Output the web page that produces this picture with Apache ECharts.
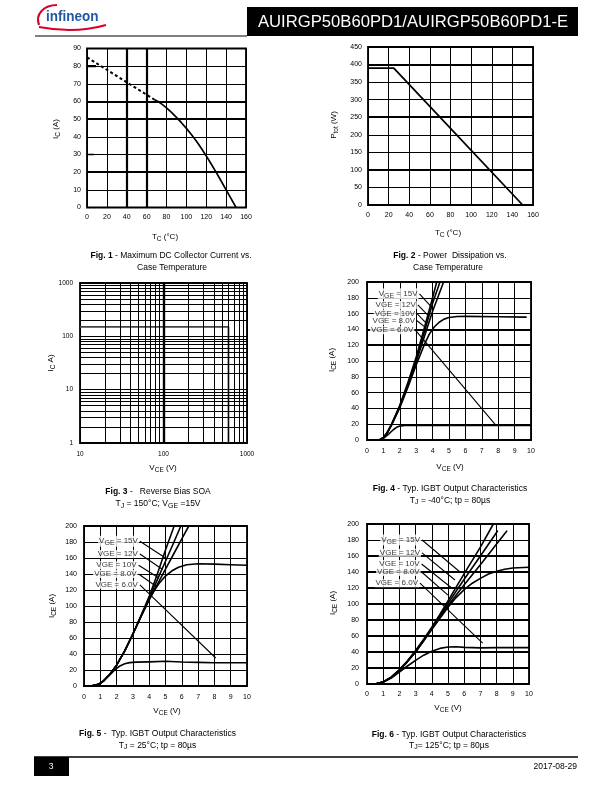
<!DOCTYPE html>
<html><head><meta charset="utf-8">
<script src="https://cdn.jsdelivr.net/npm/echarts@6/dist/echarts.min.js"></script>
<style>html,body{margin:0;padding:0;background:#fff}#c{width:612px;height:792px}</style>
</head><body><div id="c"></div>
<script>
// ---------- DATA ----------
const fig1XTicks = [0,20,40,60,80,100,120,140,160];
const fig1YTicks = [0,10,20,30,40,50,60,70,80,90];
const fig1DashT = [0, 68];
const fig1DashI = [85, 61];
const fig1T = [68, 72, 76, 80, 85, 90, 95, 100, 105, 110, 115, 120, 125, 130, 135, 140, 145, 150];
const fig1I = [61, 59.8, 58.2, 56.4, 53.8, 51, 48, 44.8, 41.3, 37.6, 33.5, 29.2, 24.6, 19.9, 15, 10, 5, 0];
const fig1StubT = [0, 7];
const fig1StubI = [30, 30];
const fig1SegT = [0, 9];
const fig1SegI = [80, 80];

const fig2XTicks = [0,20,40,60,80,100,120,140,160];
const fig2YTicks = [0,50,100,150,200,250,300,350,400,450];
const fig2T = [0, 25, 150];
const fig2P = [390, 390, 0];

const fig3XTicks = [10, 100, 1000];
const fig3YTicks = [1, 10, 100, 1000];
const fig3V = [10, 600, 600];
const fig3I = [150, 150, 1];
const fig3MinorX = [20,30,40,50,60,70,80,90,200,300,400,500,600,700,800,900];
const fig3MinorY = [2,3,4,5,6,7,8,9,20,30,40,50,60,70,80,90,200,300,400,500,600,700,800,900];

const outXTicks = [0,1,2,3,4,5,6,7,8,9,10];
const outYTicks = [0,20,40,60,80,100,120,140,160,180,200];
const vgeLabels = ['15V', '12V', '10V', '8.0V', '6.0V'];

// Fig 4, Tj = -40C
const fig4Vge15 = [[0.75,0],[1,3],[1.25,10],[1.5,20],[2,44],[2.5,73],[3,105],[3.5,142],[4,180],[4.25,200]];
const fig4Vge12 = [[0.75,0],[1,3],[1.25,10],[1.5,20],[2,43],[2.5,71],[3,102],[3.5,137],[4,173],[4.45,200]];
const fig4Vge10 = [[0.75,0],[1,3],[1.25,9.5],[1.5,19],[2,42],[2.5,69],[3,99],[3.5,131],[4,163],[4.67,200]];
const fig4Vge8  = [[0.75,0],[1,3],[1.25,9.5],[1.5,19],[2,41],[2.5,67],[3,95],[3.5,121],[3.8,134],[4.1,143],[4.4,149],[4.7,153],[5,155],[5.5,156.3],[6,156.5],[8,156],[9.7,155.5]];
const fig4Vge6  = [[0.75,0],[1,2],[1.3,7],[1.6,13],[1.8,16],[2,17.6],[2.3,18.3],[3,18.5],[5,18.5],[10,18.5]];
const fig4Leaders = [[[3.2,185],[3.95,168]],[[3.1,171],[3.75,157]],[[3.05,160],[3.65,147]],[[3.05,151],[3.6,142]],[[2.95,139],[7.8,20]]];

// Fig 5, Tj = 25C
const fig5Vge15 = [[0,0],[0.5,0.3],[0.9,2],[1.2,6.5],[1.6,15],[2,26],[2.5,44],[3,65],[3.5,88],[4,112],[4.5,140],[5,170],[5.53,200]];
const fig5Vge12 = [[0,0],[0.5,0.3],[0.9,2],[1.2,6.5],[1.6,15],[2,26],[2.5,44],[3,65],[3.5,87.5],[4,110],[4.5,133],[5,156],[5.5,179],[5.94,200]];
const fig5Vge10 = [[0,0],[0.5,0.3],[0.9,2],[1.2,6.5],[1.6,15],[2,26],[2.5,44],[3,65],[3.5,87],[4,108],[4.5,127],[5,146],[5.5,165],[6,184],[6.43,200]];
const fig5Vge8  = [[0,0],[0.5,0.3],[0.9,2],[1.2,6.5],[1.6,15],[2,26],[2.5,44],[3,65],[3.5,87],[4,108],[4.3,119],[4.6,128],[5,137.5],[5.4,144],[5.8,148.5],[6.3,151.5],[7,152.8],[8,152.3],[9,151.5],[10,151]];
const fig5Vge6  = [[0,0],[0.5,0.3],[0.9,2],[1.2,6],[1.6,14],[1.9,20.5],[2.2,25],[2.5,27.8],[2.8,29.2],[3.2,29.8],[4,30.2],[5,31],[6,30],[7,29.5],[8,29],[10,29]];
const fig5Leaders = [[[3.43,181],[5.0,160]],[[3.43,165],[4.8,146]],[[3.35,151],[4.6,135]],[[3.35,140],[4.46,124]],[[3.43,126.5],[8.08,35]]];

// Fig 6, Tj = 125C
const fig6Vge15 = [[0.2,0],[0.6,0.5],[1,2.5],[1.5,9],[2,18],[2.5,29],[3,42],[3.5,56],[4,71],[4.5,87],[5,104],[6,138],[7,171],[7.8,200]];
const fig6Vge12 = [[0.2,0],[0.6,0.5],[1,2.5],[1.5,8.5],[2,17.5],[2.5,28.5],[3,41],[3.5,55],[4,70],[4.5,85],[5,101],[6,131],[7,160],[8.05,191]];
const fig6Vge10 = [[0.2,0],[0.6,0.5],[1,2.5],[1.5,8],[2,17],[2.5,28],[3,40],[3.5,54],[4,69],[4.5,83],[5,98],[6,124],[7,149],[8,175],[8.62,191]];
const fig6Vge8  = [[0.2,0],[0.6,0.5],[1,2.5],[1.5,8],[2,17],[2.5,28],[3,40],[3.5,54],[4,68],[4.5,82],[5,96],[5.5,108],[6,118],[6.5,126],[7,132],[7.5,137.5],[8,141],[8.5,143.5],[9,145],[10,146]];
const fig6Vge6  = [[0.2,0],[0.6,0.5],[1,2.5],[1.5,7.5],[2,15],[2.5,22.5],[3,29.5],[3.5,36],[4,41],[4.5,44.5],[5,46.3],[5.5,46.5],[6,45.8],[7,45.2],[8,45.5],[10,45.5]];
const fig6Leaders = [[[3.4,180],[5.74,140]],[[3.4,164],[5.43,130]],[[3.37,150],[5.23,120]],[[3.37,140],[5.0,111]],[[3.27,126],[7.14,51]]];

// ---------- HELPERS ----------
const FONT = '"Liberation Sans", Arial, Helvetica, sans-serif';
function pairs(xs, ys){ return xs.map((x,k)=>[x, ys[k]]); }

const grids = [
  {left:87, top:48.5, width:159, height:159},
  {left:368, top:47, width:165, height:158},
  {left:80, top:283, width:167, height:160},
  {left:367, top:282, width:164, height:158},
  {left:84, top:526, width:163, height:160},
  {left:367, top:524, width:162, height:160}
].map(g=>Object.assign(g,{show:true, borderColor:'#000', borderWidth:1.8, containLabel:false, outerBoundsMode:'none', backgroundColor:'transparent'}));

function valAxis(gi, ticks, margin, fs){
  return {type:'value', gridIndex:gi, min:ticks[0], max:ticks[ticks.length-1], interval:ticks[1]-ticks[0],
    axisLine:{show:false}, axisTick:{show:false},
    axisLabel:{fontSize:fs||7, color:'#000', fontFamily:FONT, margin, formatter:v=>String(v)},
    splitLine:{show:true, lineStyle:{color:'#000', width:1}}};
}
function logAxis(gi, ticks, margin){
  return {type:'log', logBase:10, gridIndex:gi, min:ticks[0], max:ticks[ticks.length-1],
    axisLine:{show:false}, axisTick:{show:false},
    axisLabel:{fontSize:6.5, color:'#000', fontFamily:FONT, margin, formatter:v=>String(Math.round(v))},
    splitLine:{show:true, lineStyle:{color:'#000', width:1}}};
}
function curve(gi, data, extra){
  return Object.assign({type:'line', xAxisIndex:gi, yAxisIndex:gi, data, symbol:'none', animation:false, silent:true,
    smooth:false, lineStyle:{color:'#000', width:1.6, join:'round', cap:'round'}, z:4}, extra||{});
}
function gridLines(gi, xs, ys, width){
  const d=[]; (xs||[]).forEach(v=>d.push({xAxis:v})); (ys||[]).forEach(v=>d.push({yAxis:v}));
  return {type:'line', xAxisIndex:gi, yAxisIndex:gi, data:[], symbol:'none', animation:false, silent:true, z:2,
    markLine:{silent:true, symbol:['none','none'], label:{show:false}, animation:false, precision:6,
      lineStyle:{color:'#000', width, type:'solid'}, data:d}};
}
function leaders(gi, list){
  return list.map(seg=>({type:'line', xAxisIndex:gi, yAxisIndex:gi, data:seg, symbol:'none', animation:false, silent:true,
    lineStyle:{color:'#000', width:1.1}, z:5}));
}
function labelSeries(gi, list){
  return {type:'scatter', xAxisIndex:gi, yAxisIndex:gi, symbolSize:0.01, itemStyle:{color:'#fff'}, animation:false, silent:true, z:6,
    data:list.map(seg=>seg[0]),
    label:{show:true, position:'left', distance:1, backgroundColor:'#fff', padding:[0,1,0,1],
      fontSize:8, fontFamily:FONT, color:'#000',
      formatter:p=> p.dataIndex===0 ? '{n|V}{s|GE}{n| = '+vgeLabels[0]+'}' : 'VGE = '+vgeLabels[p.dataIndex],
      rich:{n:{fontSize:8, fontFamily:FONT, color:'#000'}, s:{fontSize:7, fontFamily:FONT, color:'#000', padding:[4,0,0,0]}}}};
}

// ---------- SERIES ----------
const series = [];
// Fig 1
series.push(gridLines(0, [40,60], [60,50,20], 2.2));
series.push(curve(0, pairs(fig1SegT, fig1SegI), {z:3, lineStyle:{color:'#000', width:2.2}}));
series.push(curve(0, pairs(fig1DashT, fig1DashI), {lineStyle:{color:'#000', width:2, type:[3,2.5]}}));
series.push(curve(0, pairs(fig1T, fig1I), {lineStyle:{color:'#000', width:1.7, join:'round'}}));
series.push(curve(0, pairs(fig1StubT, fig1StubI), {lineStyle:{color:'#000', width:1.6}}));
// Fig 2
series.push(gridLines(1, [], [400,250,100], 2.2));
series.push(curve(1, pairs(fig2T, fig2P), {lineStyle:{color:'#000', width:1.8}}));
// Fig 3
series.push(gridLines(2, fig3MinorX, fig3MinorY, 1));
series.push(gridLines(2, [100], [], 2.4));
series.push(curve(2, pairs(fig3V, fig3I), {lineStyle:{color:'#444', width:1.8}}));
// Fig 4
series.push(gridLines(3, [], [140,120], 2.2));
[fig4Vge15, fig4Vge12, fig4Vge10, fig4Vge8, fig4Vge6].forEach(d=>series.push(curve(3, d)));
leaders(3, fig4Leaders).forEach(s=>series.push(s));
series.push(labelSeries(3, fig4Leaders));
// Fig 5
[fig5Vge15, fig5Vge12, fig5Vge10, fig5Vge8, fig5Vge6].forEach(d=>series.push(curve(4, d)));
leaders(4, fig5Leaders).forEach(s=>series.push(s));
series.push(labelSeries(4, fig5Leaders));
// Fig 6
series.push(gridLines(5, [], [20,40,60,80,100,120,140,160], 2.2));
[fig6Vge15, fig6Vge12, fig6Vge10, fig6Vge8, fig6Vge6].forEach(d=>series.push(curve(5, d)));
leaders(5, fig6Leaders).forEach(s=>series.push(s));
series.push(labelSeries(5, fig6Leaders));

// ---------- TEXT / PAGE ELEMENTS ----------
const RICH = {
  n:{fontSize:8, fontFamily:FONT, fill:'#000', color:'#000'},
  s:{fontSize:6.5, fontFamily:FONT, fill:'#000', color:'#000', padding:[4,0,0,0]},
  b:{fontSize:8.5, fontFamily:FONT, fontWeight:'bold', fill:'#000', color:'#000'},
  c:{fontSize:8.5, fontFamily:FONT, fill:'#000', color:'#000'},
  cs:{fontSize:7, fontFamily:FONT, fill:'#000', color:'#000', padding:[4,0,0,0]}
};
function txt(x, y, text, rot){
  return {type:'text', x, y, rotation:rot||0, silent:true, z:10,
    style:{text, rich:RICH, fontSize:8, fontFamily:FONT, fill:'#000', align:'center', verticalAlign:'middle', textAlign:'center', textVerticalAlign:'middle'}};
}
const R = Math.PI/2;
const graphics = [
  // header
  {type:'bezierCurve', shape:{x1:39,y1:25,cpx1:35,cpy1:14,cpx2:44,cpy2:5,x2:57,y2:5}, style:{stroke:'#d9002c', lineWidth:2.2, fill:null}, silent:true},
  {type:'bezierCurve', shape:{x1:39,y1:27,cpx1:60,cpy1:31,cpx2:85,cpy2:31,x2:106,y2:25}, style:{stroke:'#d9002c', lineWidth:2.2, fill:null}, silent:true},
  {type:'text', x:46, y:17, scaleX:0.9, silent:true, style:{text:'infineon', fontSize:15, fontWeight:'bold', fontFamily:FONT, fill:'#1f56a5', verticalAlign:'middle', textVerticalAlign:'middle'}},
  {type:'line', shape:{x1:35,y1:36,x2:247,y2:36}, style:{stroke:'#000', lineWidth:1.2}, silent:true},
  {type:'rect', shape:{x:247,y:7,width:331,height:29}, style:{fill:'#000'}, silent:true},
  {type:'text', x:413, y:22, scaleX:0.98, silent:true, style:{text:'AUIRGP50B60PD1/AUIRGP50B60PD1-E', fontSize:17, fontFamily:FONT, fill:'#fff', align:'center', verticalAlign:'middle', textAlign:'center', textVerticalAlign:'middle'}},
  // footer
  {type:'line', shape:{x1:34,y1:757,x2:578,y2:757}, style:{stroke:'#000', lineWidth:1.5}, silent:true},
  {type:'rect', shape:{x:34,y:757,width:35,height:19}, style:{fill:'#000'}, silent:true},
  {type:'text', x:51, y:767, silent:true, style:{text:'3', fontSize:8.5, fontFamily:FONT, fill:'#fff', align:'center', verticalAlign:'middle', textAlign:'center', textVerticalAlign:'middle'}},
  {type:'text', x:577, y:767, silent:true, style:{text:'2017-08-29', fontSize:8.5, fontFamily:FONT, fill:'#000', align:'right', verticalAlign:'middle', textAlign:'right', textVerticalAlign:'middle'}},
  // axis titles
  txt(165, 237, '{n|T}{s|C}{n| (°C)}'),
  txt(56, 129, '{n|I}{s|C}{n| (A)}', R),
  txt(448, 233, '{n|T}{s|C}{n| (°C)}'),
  txt(334, 125, '{n|P}{s|tot}{n| (W)}', R),
  txt(163, 468, '{n|V}{s|CE}{n| (V)}'),
  txt(51, 363, '{n|I}{s|C}{n| A)}', R),
  txt(450, 467, '{n|V}{s|CE}{n| (V)}'),
  txt(332, 360, '{n|I}{s|CE}{n| (A)}', R),
  txt(167, 711, '{n|V}{s|CE}{n| (V)}'),
  txt(52, 606, '{n|I}{s|CE}{n| (A)}', R),
  txt(448, 708, '{n|V}{s|CE}{n| (V)}'),
  txt(333, 603, '{n|I}{s|CE}{n| (A)}', R),
  // captions
  txt(171, 256, '{b|Fig. 1}{c| - Maximum DC Collector Current vs.}'),
  txt(172, 267.5, '{c|Case Temperature}'),
  txt(450, 256, '{b|Fig. 2}{c| - Power  Dissipation vs.}'),
  txt(448, 267.5, '{c|Case Temperature}'),
  txt(158, 492, '{b|Fig. 3}{c| -   Reverse Bias SOA}'),
  txt(158, 504, '{c|T}{cs|J}{c| = 150°C; V}{cs|GE}{c| =15V}'),
  txt(450, 489, '{b|Fig. 4}{c| - Typ. IGBT Output Characteristics}'),
  txt(450, 500.5, '{c|T}{cs|J}{c| = -40°C; tp = 80µs}'),
  txt(157.5, 734, '{b|Fig. 5}{c| -  Typ. IGBT Output Characteristics}'),
  txt(157.5, 745.5, '{c|T}{cs|J}{c| = 25°C; tp = 80µs}'),
  txt(449, 734.5, '{b|Fig. 6}{c| - Typ. IGBT Output Characteristics}'),
  txt(449, 745.5, '{c|T}{cs|J}{c|= 125°C; tp = 80µs}')
];

const chart = echarts.init(document.getElementById('c'), null, {renderer:'canvas', width:612, height:792});
chart.setOption({
  animation:false,
  backgroundColor:'#fff',
  grid: grids,
  xAxis: [valAxis(0, fig1XTicks, 6), valAxis(1, fig2XTicks, 7), logAxis(2, fig3XTicks, 8),
          valAxis(3, outXTicks, 8), valAxis(4, outXTicks, 8), valAxis(5, outXTicks, 7)],
  yAxis: [valAxis(0, fig1YTicks, 6), valAxis(1, fig2YTicks, 6), logAxis(2, fig3YTicks, 7),
          valAxis(3, outYTicks, 8), valAxis(4, outYTicks, 7), valAxis(5, outYTicks, 8)],
  series,
  graphic: graphics
});
</script></body></html>
